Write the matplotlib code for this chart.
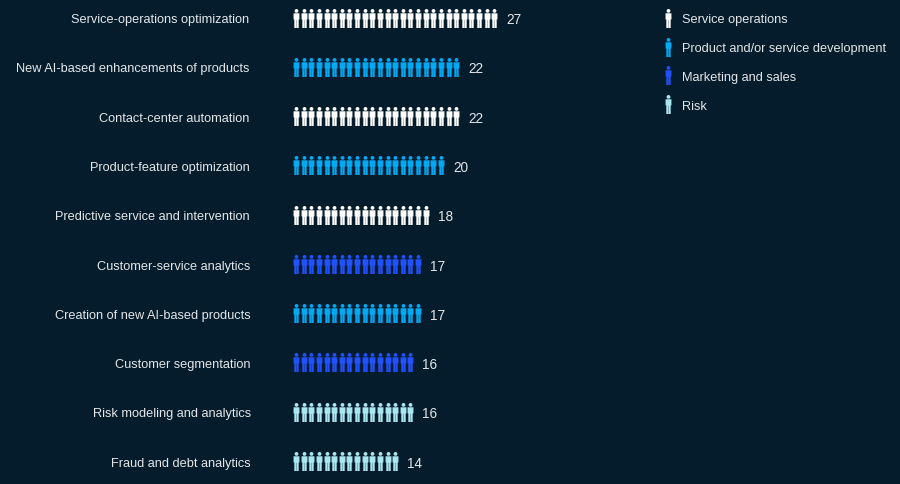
import matplotlib
matplotlib.use("Agg")
import matplotlib.pyplot as plt
from matplotlib.path import Path
from matplotlib.lines import Line2D
import numpy as np

categories = ["Service-operations optimization", "New AI-based enhancements of products",
              "Contact-center automation", "Product-feature optimization",
              "Predictive service and intervention", "Customer-service analytics",
              "Creation of new AI-based products", "Customer segmentation",
              "Risk modeling and analytics", "Fraud and debt analytics"]
values = [27, 22, 22, 20, 18, 17, 17, 16, 16, 14]
functions = ["Service operations", "Product and/or service development", "Service operations",
             "Product and/or service development", "Service operations", "Marketing and sales",
             "Product and/or service development", "Marketing and sales", "Risk", "Risk"]
legend_names = ["Service operations", "Product and/or service development", "Marketing and sales", "Risk"]
palette = ["#FFFFFF", "#00A9F4", "#2251FF", "#AAE6F0"]
BG = "#051C2C"
TXT = "#E4E7E9"

plt.rcParams["font.family"] = ["Liberation Sans", "DejaVu Sans"]

# person glyph: head + body with arms + two legs
head = Path.circle((0, 0.80), 0.20)
body = Path([(-0.31, 0.55), (0.31, 0.55), (0.31, -0.10), (0.23, -0.10), (0.23, -1.0), (0.015, -1.0),
             (0.015, -0.15), (-0.015, -0.15), (-0.015, -1.0), (-0.23, -1.0), (-0.23, -0.10), (-0.31, -0.10), (-0.31, 0.55)],
            closed=True)
person = Path.make_compound_path(head, body)

W, H = 900, 485
STEP, X0, ROW, Y0 = 7.62, 292.3, 49.28, 18.5
fig = plt.figure(figsize=(9, 4.85), dpi=100, facecolor=BG)
ax = fig.add_axes([0, 0, 1, 1], facecolor=BG)
ax.set_xlim(-X0 / STEP, (W - X0) / STEP)
ax.set_ylim((H - Y0) / ROW, -Y0 / ROW)
ax.axis("off")

colour = dict(zip(legend_names, palette))
MS = 19 * 0.72
for r, (cat, val, fn) in enumerate(zip(categories, values, functions)):
    ax.scatter(np.arange(val) + 0.5, np.full(val, r), marker=person, s=MS ** 2,
               color=colour[fn], linewidths=0)
    ax.annotate(cat, (0, r), xytext=((-43.3 + 0.22 * r) * 0.72, -1.2), textcoords="offset points",
                ha="right", va="center", color=TXT, fontsize=9.15)
    ax.annotate(str(val), (val, r), xytext=(8.2 * 0.72, -1.2), textcoords="offset points",
                ha="left", va="center", color=TXT, fontsize=9.8)

handles = [Line2D([], [], linestyle="none", marker=person, markersize=MS, color=c, markeredgewidth=0)
           for c in palette]
ax.legend(handles, legend_names, loc="upper left", bbox_to_anchor=(662 / W, 1 - 14 / H), frameon=False,
          labelcolor=TXT, fontsize=9.15, labelspacing=1.335, handlelength=1.0, handletextpad=0.6,
          borderpad=0, borderaxespad=0)

fig.savefig("out.png", dpi=100, facecolor=BG)
